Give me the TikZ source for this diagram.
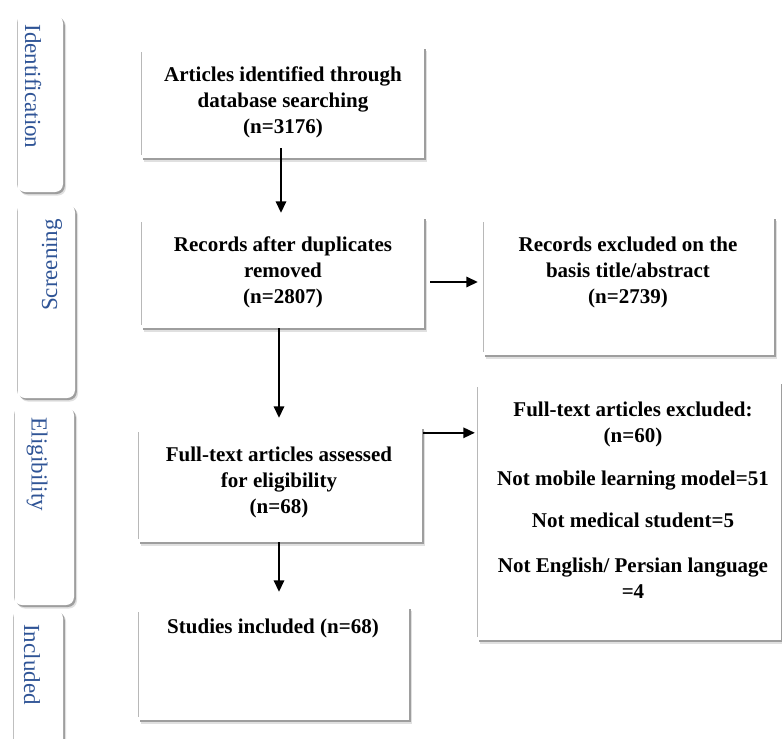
\documentclass[tikz,border=0pt]{standalone}
\usepackage{fontspec}
\setmainfont{Liberation Serif}
\usetikzlibrary{shadows,arrows.meta,calc}
\definecolor{tabblue}{RGB}{47,84,150}
\tikzset{
  boxshadow/.style={
    general shadow={shadow xshift=3pt, shadow yshift=-3.5pt, fill=black!12},
    general shadow={shadow xshift=1.8pt, shadow yshift=-2pt, fill=black!38}},
  leftline/.style={path picture={\draw[black!28, line width=1.4pt]
      ([yshift=-5pt]path picture bounding box.north west) -- ([yshift=3pt]path picture bounding box.south west);}},
  box/.style={rectangle, fill=white, draw=none, inner sep=0pt, boxshadow, leftline},
  tab/.style={rectangle, rounded corners=8pt, fill=white, draw=none, inner sep=0pt, boxshadow,
    path picture={\draw[black!25, line width=1.6pt]
      ([yshift=-4pt]path picture bounding box.north west) -- ([yshift=4pt]path picture bounding box.south west);}},
  txt/.style={font=\bfseries\fontsize{21}{26}\selectfont, align=center, inner sep=0pt},
  tabtxt/.style={font=\fontsize{23}{23}\selectfont, text=tabblue, inner sep=0pt},
  arr/.style={line width=1.6pt, -{Triangle[width=10.5pt,length=11.5pt]}},
}
\begin{document}
\begin{tikzpicture}[x=1pt,y=-1pt]
\clip (0,0) rectangle (782,739);
\fill[white] (0,0) rectangle (782,739);

% phase tabs
\node[tab, minimum width=46pt, minimum height=177pt] (tab1) at (40,103.5) {};
\node[tab, minimum width=58pt, minimum height=194pt] (tab2) at (46,301) {};
\node[tab, minimum width=60pt, minimum height=198pt] (tab3) at (44,506) {};
\node[tab, minimum width=50pt, minimum height=150pt] (tab4) at (38,685) {};
\node[tabtxt, rotate=-90] (l1) at (33,86.5) {Identification};
\node[tabtxt, rotate=90] (l2) at (52,265) {Screening};
\node[tabtxt, rotate=-90] (l3) at (37,464.5) {Eligibility};
\node[tabtxt, rotate=-90] (l4) at (32,664.5) {Included};

% boxes
\node[box, minimum width=283pt, minimum height=111pt] (b1) at (282.5,102.5) {};
\node[box, minimum width=283pt, minimum height=111pt] (b2) at (282.5,272.5) {};
\node[box, minimum width=291pt, minimum height=138pt] (b3) at (628.5,286) {};
\node[box, minimum width=284pt, minimum height=115pt] (b4) at (280,484.5) {};
\node[box, minimum width=304pt, minimum height=258pt] (b5) at (629,511) {};
\node[box, minimum width=271pt, minimum height=113pt] (b6) at (273.5,663.5) {};

% texts
\node[txt] (t1) at (283,102.5) {Articles identified through\\database searching\\(n=3176)};
\node[txt] (t2) at (283,272.5) {Records after duplicates\\removed\\(n=2807)};
\node[txt] (t3) at (628,272.5) {Records excluded on the\\basis title/abstract\\(n=2739)};
\node[txt] (t4) at (279,482) {Full-text articles assessed\\for eligibility\\(n=68)};
\node[txt] (t5) at (633,500) {Full-text articles excluded:\\(n=60)\\[17pt]Not mobile learning model=51\\[16pt]Not medical student=5\\[19pt]Not English/ Persian language\\=4};
\node[txt] (t6) at (273,628) {Studies included (n=68)};

% connectors
\coordinate (a1s) at ($(b1.south)+(-1.5,-10)$);
\coordinate (a1e) at ($(b2.north)+(-1.5,-4)$);
\draw[arr] (a1s) -- (a1e);

\coordinate (a2s) at ($(b2.east)+(6,9.5)$);
\coordinate (a2e) at ($(b3.west |- a2s)+(-5,0)$);
\draw[arr] (a2s) -- (a2e);

\coordinate (a3s) at ($(b4.north east)+(1,6)$);
\coordinate (a3e) at ($(b5.west |- a3s)+(-2,0)$);
\draw[arr] (a3s) -- (a3e);

\coordinate (a4s) at ($(b2.south)+(-3.5,0)$);
\coordinate (a4e) at ($(b4.north -| a4s)+(0,-9)$);
\draw[arr] (a4s) -- (a4e);

\coordinate (a5s) at ($(b4.south)+(-1,0)$);
\coordinate (a5e) at ($(b6.north -| a5s)+(0,-15)$);
\draw[arr] (a5s) -- (a5e);
\end{tikzpicture}
\end{document}
